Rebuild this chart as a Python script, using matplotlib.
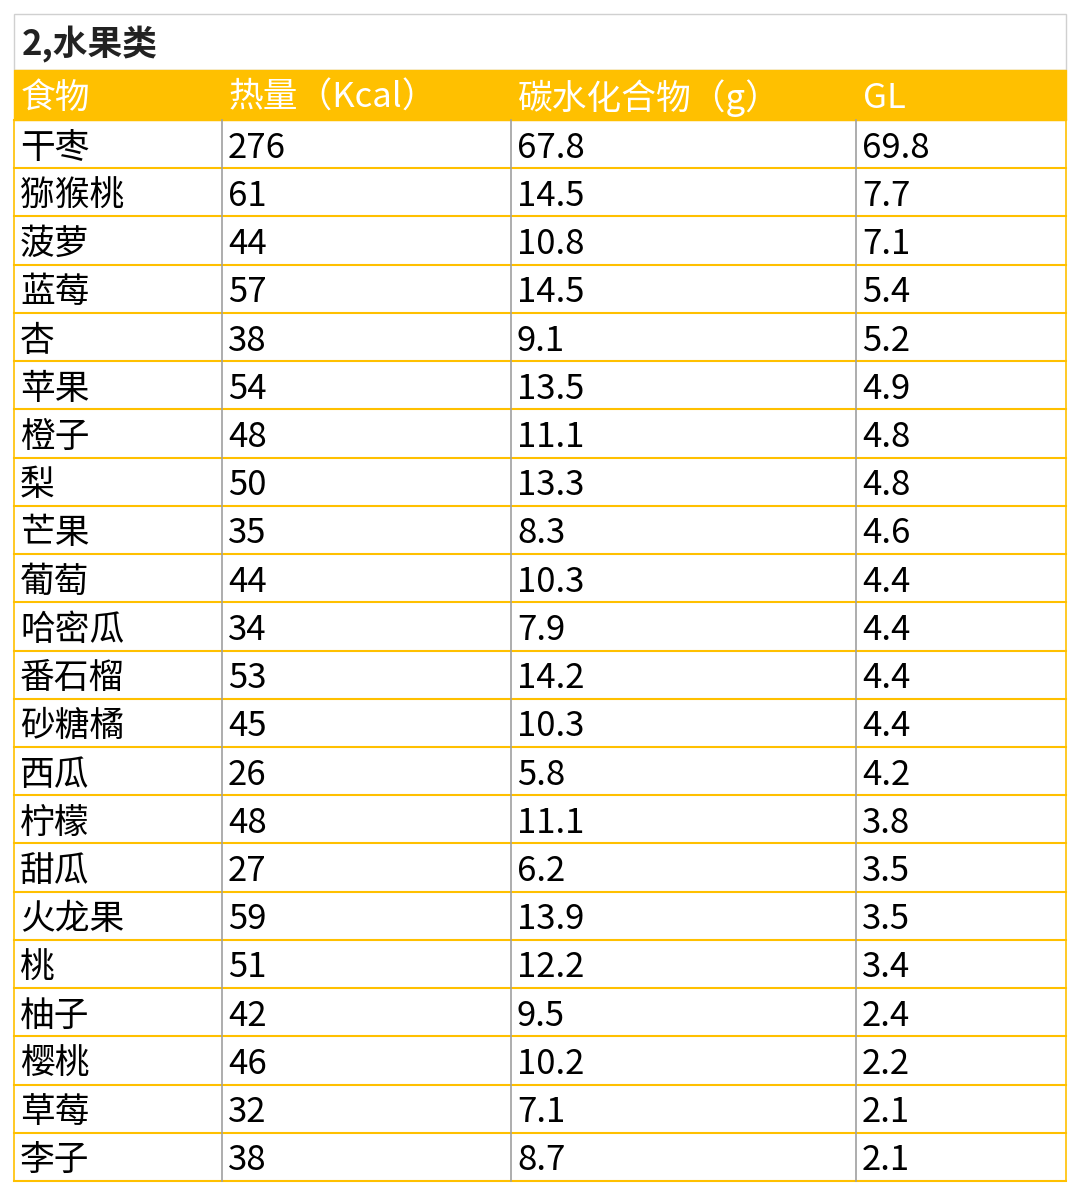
import matplotlib
matplotlib.use("Agg")
import matplotlib.pyplot as plt
from matplotlib.patches import Rectangle

plt.rcParams['font.family'] = ['Noto Sans CJK SC', 'DejaVu Sans']

title = "2,水果类"
headers = ["食物", "热量（Kcal）", "碳水化合物（g）", "GL"]
foods = ["干枣","猕猴桃","菠萝","蓝莓","杏","苹果","橙子","梨","芒果","葡萄","哈密瓜",
         "番石榴","砂糖橘","西瓜","柠檬","甜瓜","火龙果","桃","柚子","樱桃","草莓","李子"]
kcal = ["276","61","44","57","38","54","48","50","35","44","34","53","45","26","48","27","59","51","42","46","32","38"]
carbs = ["67.8","14.5","10.8","14.5","9.1","13.5","11.1","13.3","8.3","10.3","7.9","14.2",
         "10.3","5.8","11.1","6.2","13.9","12.2","9.5","10.2","7.1","8.7"]
gl = ["69.8","7.7","7.1","5.4","5.2","4.9","4.8","4.8","4.6","4.4","4.4","4.4","4.4",
      "4.2","3.8","3.5","3.5","3.4","2.4","2.2","2.1","2.1"]

W, H = 1080, 1194
fig = plt.figure(figsize=(W/100, H/100), dpi=100)
ax = fig.add_axes([0, 0, 1, 1])
ax.set_xlim(0, W); ax.set_ylim(H, 0); ax.axis('off')

left, right, top = 14, 1066, 14
title_h, head_h = 56, 50
cols = [14, 222, 511, 856, 1066]
y0 = top + title_h + head_h
n = len(foods)
row_h = (1181 - y0) / n
orange = "#FFC000"

ax.add_patch(Rectangle((left, top), right-left, title_h, fill=False, ec="#D0D0D0", lw=1))
ax.text(left+8, top+title_h/2+2, title, fontsize=25, fontweight='bold', va='center', ha='left', color='#222222')
ax.add_patch(Rectangle((left, top+title_h), right-left, head_h, fc=orange, ec=orange))
for j, h in enumerate(headers):
    ax.text(cols[j]+7, top+title_h+head_h/2+3, h, fontsize=25, color='white', va='center', ha='left')

for i in range(n+1):
    y = y0 + i*row_h
    ax.plot([left, right], [y, y], color=orange, lw=1.5)
for x in cols:
    ax.plot([x, x], [y0, y0+n*row_h], color="#A0A0A0" if x not in (left, right) else orange, lw=1.2)

for i in range(n):
    yc = y0 + (i+0.5)*row_h + 4
    for j, v in enumerate([foods[i], kcal[i], carbs[i], gl[i]]):
        ax.text(cols[j]+6, yc, v, fontsize=25, color='black', va='center', ha='left')

fig.savefig("out.png", dpi=100, facecolor='white')
